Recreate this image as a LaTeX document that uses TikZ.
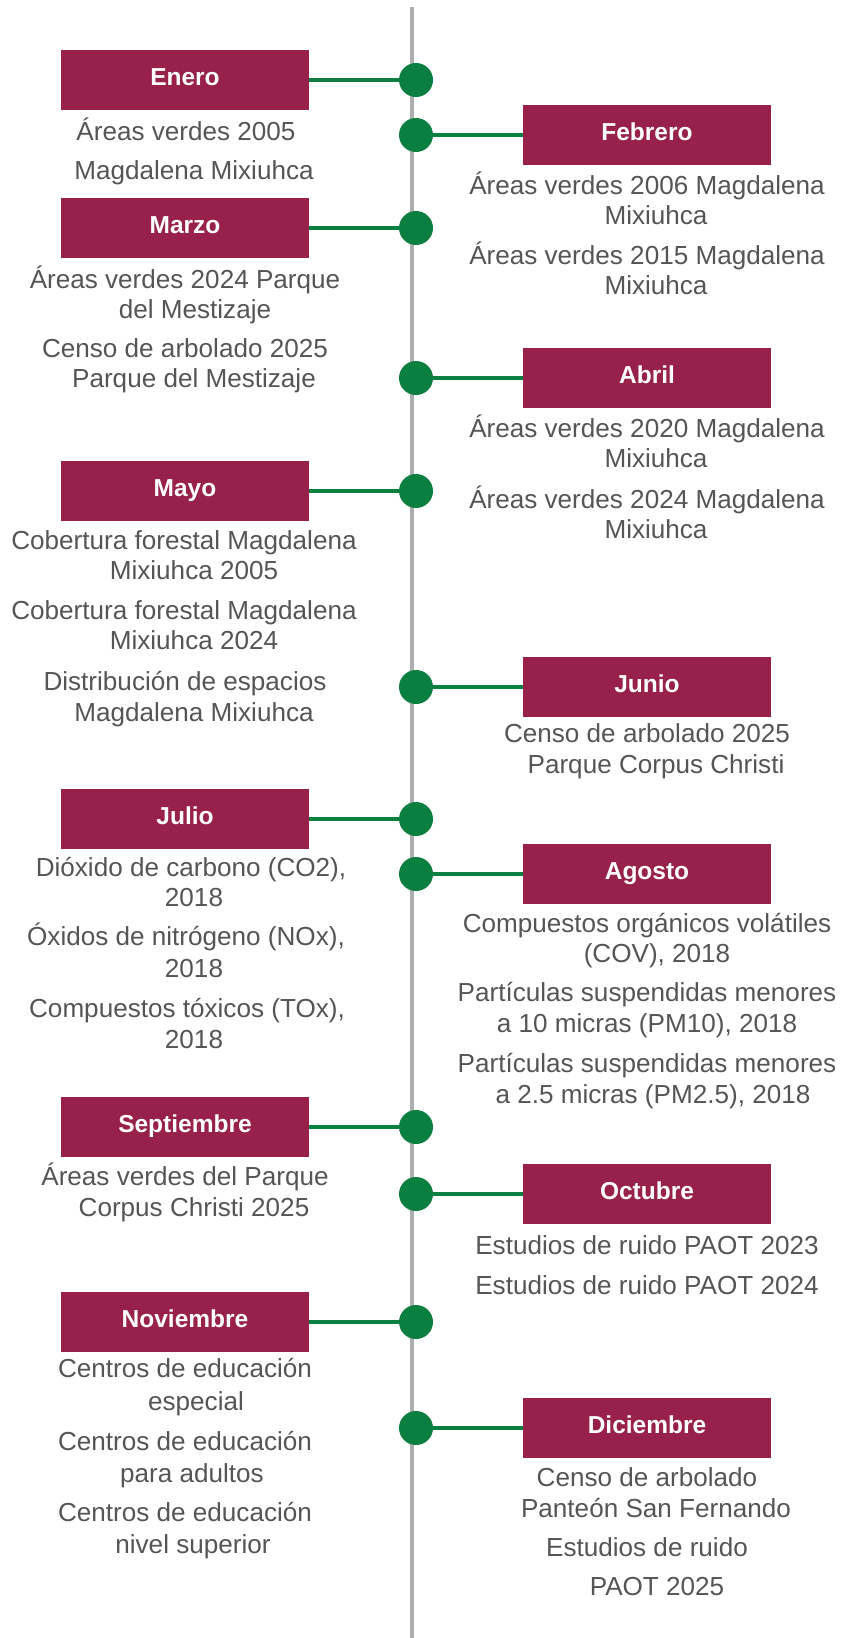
\documentclass[tikz,border=0pt]{standalone}
\usepackage{fontspec}
\setmainfont{Liberation Sans}
\definecolor{boxred}{HTML}{97214B}
\definecolor{dotgreen}{HTML}{0B7F3F}
\definecolor{axisgray}{HTML}{ADADAD}
\definecolor{bodygray}{HTML}{555555}
\begin{document}
\begin{tikzpicture}[x=1pt,y=-1pt,
  month/.style={fill=boxred, text=white, minimum width=248pt, minimum height=60pt, inner sep=0pt,
    font=\fontsize{24.5}{28}\selectfont\bfseries, text height=14pt, text depth=4pt},
  dot/.style={circle, fill=dotgreen, minimum size=34pt, inner sep=0pt},
  link/.style={draw=dotgreen, line width=4pt},
  body/.style={anchor=base, text=bodygray, font=\fontsize{26.1}{30}\selectfont, inner sep=0pt},
  axisline/.style={draw=axisgray, line width=4.5pt}]
\fill[white] (0,0) rectangle (843,1638);
\useasboundingbox (0,0) rectangle (843,1638);
\coordinate (axtop) at (412,7);
\coordinate (axbot) at (412,1638);
\draw[axisline] (axtop) -- (axbot);

% months
\node[month] (ene) at (185,80) {Enero};
\node[month] (feb) at (647,135) {Febrero};
\node[month] (mar) at (185,228) {Marzo};
\node[month] (abr) at (647,378) {Abril};
\node[month] (may) at (185,491) {Mayo};
\node[month] (jun) at (647,687) {Junio};
\node[month] (jul) at (185,819) {Julio};
\node[month] (ago) at (647,874) {Agosto};
\node[month] (sep) at (185,1127) {Septiembre};
\node[month] (oct) at (647,1194) {Octubre};
\node[month] (nov) at (185,1322) {Noviembre};
\node[month] (dic) at (647,1428) {Diciembre};

% dots
\node[dot] (dene) at (416,80) {};
\node[dot] (dfeb) at (416,135) {};
\node[dot] (dmar) at (416,228) {};
\node[dot] (dabr) at (416,378) {};
\node[dot] (dmay) at (416,491) {};
\node[dot] (djun) at (416,687) {};
\node[dot] (djul) at (416,819) {};
\node[dot] (dago) at (416,874) {};
\node[dot] (dsep) at (416,1127) {};
\node[dot] (doct) at (416,1194) {};
\node[dot] (dnov) at (416,1322) {};
\node[dot] (ddic) at (416,1428) {};

% links
\draw[link] (ene.east) -- (dene.west);
\draw[link] (dfeb.east) -- (feb.west);
\draw[link] (mar.east) -- (dmar.west);
\draw[link] (dabr.east) -- (abr.west);
\draw[link] (may.east) -- (dmay.west);
\draw[link] (djun.east) -- (jun.west);
\draw[link] (jul.east) -- (djul.west);
\draw[link] (dago.east) -- (ago.west);
\draw[link] (sep.east) -- (dsep.west);
\draw[link] (doct.east) -- (oct.west);
\draw[link] (nov.east) -- (dnov.west);
\draw[link] (ddic.east) -- (dic.west);

% left texts
\node[body] (t1) at (186,140.6) {Áreas verdes 2005};
\node[body] (t2) at (194,179.3) {Magdalena Mixiuhca};
\node[body] (t3) at (185,288) {Áreas verdes 2024 Parque};
\node[body] (t4) at (195,318) {del Mestizaje};
\node[body] (t5) at (185,357) {Censo de arbolado 2025};
\node[body] (t6) at (194,387) {Parque del Mestizaje};
\node[body] (t7) at (184,549) {Cobertura forestal Magdalena};
\node[body] (t8) at (194,579.5) {Mixiuhca 2005};
\node[body] (t9) at (184,619) {Cobertura forestal Magdalena};
\node[body] (t10) at (194,649.5) {Mixiuhca 2024};
\node[body] (t11) at (185,690) {Distribución de espacios};
\node[body] (t12) at (194,721.5) {Magdalena Mixiuhca};
\node[body] (t13) at (191,876) {Dióxido de carbono (CO2),};
\node[body] (t14) at (194,906) {2018};
\node[body] (t15) at (186,945) {Óxidos de nitrógeno (NOx),};
\node[body] (t16) at (194,977) {2018};
\node[body] (t17) at (187,1017) {Compuestos tóxicos (TOx),};
\node[body] (t18) at (194,1048.5) {2018};
\node[body] (t19) at (185,1185) {Áreas verdes del Parque};
\node[body] (t20) at (194,1216.5) {Corpus Christi 2025};
\node[body] (t21) at (185,1377.5) {Centros de educación};
\node[body] (t22) at (196,1410) {especial};
\node[body] (t23) at (185,1450.5) {Centros de educación};
\node[body] (t24) at (192,1482) {para adultos};
\node[body] (t25) at (185,1521.5) {Centros de educación};
\node[body] (t26) at (193,1553) {nivel superior};

% right texts
\node[body] (r1) at (647,194) {Áreas verdes 2006 Magdalena};
\node[body] (r2) at (656,224) {Mixiuhca};
\node[body] (r3) at (647,264) {Áreas verdes 2015 Magdalena};
\node[body] (r4) at (656,294) {Mixiuhca};
\node[body] (r5) at (647,437.5) {Áreas verdes 2020 Magdalena};
\node[body] (r6) at (656,467.5) {Mixiuhca};
\node[body] (r7) at (647,508.5) {Áreas verdes 2024 Magdalena};
\node[body] (r8) at (656,538.5) {Mixiuhca};
\node[body] (r9) at (647,742.5) {Censo de arbolado 2025};
\node[body] (r10) at (656,773.5) {Parque Corpus Christi};
\node[body] (r11) at (647,932.5) {Compuestos orgánicos volátiles};
\node[body] (r12) at (657,962.5) {(COV), 2018};
\node[body] (r13) at (647,1001.5) {Partículas suspendidas menores};
\node[body] (r14) at (647,1032.5) {a 10 micras (PM10), 2018};
\node[body] (r15) at (647,1072.5) {Partículas suspendidas menores};
\node[body] (r16) at (653,1103.5) {a 2.5 micras (PM2.5), 2018};
\node[body] (r17) at (647,1254) {Estudios de ruido PAOT 2023};
\node[body] (r18) at (647,1294) {Estudios de ruido PAOT 2024};
\node[body] (r19) at (647,1486) {Censo de arbolado};
\node[body] (r20) at (656,1517.5) {Panteón San Fernando};
\node[body] (r21) at (647,1556) {Estudios de ruido};
\node[body] (r22) at (657,1595.5) {PAOT 2025};
\end{tikzpicture}
\end{document}
